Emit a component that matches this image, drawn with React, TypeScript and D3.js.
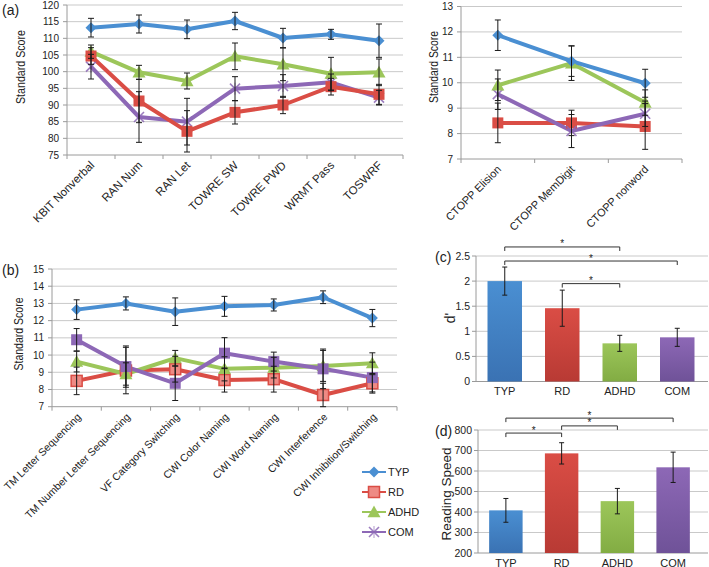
import React from "react";
import * as d3 from "d3";

const GROUPS = ["TYP", "RD", "ADHD", "COM"];
const COLORS: Record<string, string> = { TYP: "#4A8FD2", RD: "#DA4D45", ADHD: "#9CC65A", COM: "#8D68B6" };
const DARK: Record<string, string> = { TYP: "#3A72B3", RD: "#B83A34", ADHD: "#82AC43", COM: "#6F5298" };

// Panel (a) left
const catsA = ["KBIT Nonverbal", "RAN Num", "RAN Let", "TOWRE SW", "TOWRE PWD", "WRMT  Pass", "TOSWRF"];
const typA = [113.2, 114.3, 112.7, 115.2, 110.1, 111.2, 109.3];
const rdA = [104.7, 91.2, 82.1, 87.8, 90.0, 95.5, 93.2];
const adhdA = [106.0, 99.8, 97.2, 104.6, 102.2, 99.4, 99.8];
const comA = [101.5, 86.4, 85.0, 94.9, 95.7, 96.8, 92.2];
const typAErr = [2.8, 2.7, 2.8, 2.6, 2.9, 1.5, 5.0];
const rdAErr = [2.5, 6.5, 6.2, 3.5, 2.6, 2.5, 3.0];
const adhdAErr = [2.0, 2.1, 2.4, 4.0, 4.9, 4.9, 4.0];
const comAErr = [3.7, 7.6, 7.0, 3.6, 3.4, 2.5, 2.2];
const ticksA = [75, 80, 85, 90, 95, 100, 105, 110, 115, 120];

// Panel (a) right (CTOPP)
const catsC = ["CTOPP Elision", "CTOPP MemDigit", "CTOPP nonword"];
const typC = [11.87, 10.85, 9.98];
const rdC = [8.42, 8.42, 8.28];
const adhdC = [9.9, 10.77, 9.22];
const comC = [9.55, 8.1, 8.78];
const typCErr = [0.6, 0.6, 0.55];
const rdCErr = [0.78, 0.5, 0.9];
const adhdCErr = [0.6, 0.68, 0.5];
const comCErr = [0.6, 0.65, 0.5];
const ticksC = [7, 8, 9, 10, 11, 12, 13];

// Panel (b)
const catsB = ["TM Letter Sequencing", "TM Number Letter Sequencing", "VF Category Switching", "CWI Color Naming", "CWI Word Naming", "CWI Interference", "CWI Inhibition/Switching"];
const typB = [12.64, 13.0, 12.52, 12.83, 12.91, 13.36, 12.15];
const rdB = [8.5, 9.1, 9.18, 8.55, 8.6, 7.68, 8.36];
const adhdB = [9.62, 8.9, 9.82, 9.2, 9.27, 9.37, 9.53];
const comB = [10.89, 9.33, 8.36, 10.11, 9.62, 9.2, 8.69];
const typBErr = [0.57, 0.38, 0.8, 0.58, 0.35, 0.37, 0.5];
const rdBErr = [0.8, 1.35, 0.75, 0.7, 0.75, 0.68, 0.5];
const adhdBErr = [0.6, 0.65, 0.45, 0.7, 0.6, 0.9, 0.6];
const comBErr = [0.65, 1.2, 1.0, 0.9, 0.55, 1.15, 0.9];
const ticksB = [7, 8, 9, 10, 11, 12, 13, 14, 15];

// Panel (c)
const dprime = [2.0, 1.46, 0.76, 0.88];
const dprimeErr = [0.28, 0.36, 0.16, 0.18];
const ticksD = [0, 0.5, 1, 1.5, 2, 2.5];
const sigC: [string, string, number][] = [["TYP", "ADHD", 2.68], ["TYP", "COM", 2.4], ["RD", "ADHD", 1.95]];

// Panel (d)
const speed = [408, 686, 453, 618];
const speedErr = [58, 52, 62, 74];
const ticksS = [200, 300, 400, 500, 600, 700, 800];
const sigD: [string, string, number][] = [["TYP", "COM", 858], ["RD", "ADHD", 820], ["TYP", "RD", 785]];

const FONT = "'Liberation Sans', Arial, Helvetica, sans-serif";
const GRID = "#C9C9C9";
const AXIS = "#9A9A9A";
const TXT = "#222";

type Series = { key: string; values: number[]; errs: number[]; marker: string };

function Marker({ type, x, y, color }: { type: string; x: number; y: number; color: string }) {
  if (type === "diamond") {
    const s = 5.5;
    return <path d={`M${x},${y - s}L${x + s},${y}L${x},${y + s}L${x - s},${y}Z`} fill={color} />;
  }
  if (type === "square") {
    const s = 5.5;
    return <rect x={x - s} y={y - s} width={2 * s} height={2 * s} fill={color} />;
  }
  if (type === "squareLight") {
    const s = 5.5;
    return <rect x={x - s} y={y - s} width={2 * s} height={2 * s} fill="#EE8A84" stroke={color} strokeWidth={1.5} />;
  }
  if (type === "triangle") {
    const s = 6.5;
    return <path d={`M${x},${y - s}L${x + s},${y + s * 0.8}L${x - s},${y + s * 0.8}Z`} fill={color} />;
  }
  if (type === "x") {
    const s = 5;
    return (
      <g stroke={color} strokeWidth={1.6} opacity={0.85}>
        <line x1={x - s} y1={y - s} x2={x + s} y2={y + s} />
        <line x1={x - s} y1={y + s} x2={x + s} y2={y - s} />
        <line x1={x} y1={y - s - 1} x2={x} y2={y + s + 1} strokeWidth={0.8} />
      </g>
    );
  }
  return null;
}

function LinePanel({ cats, series, xRange, yRange, domain, tickValues, labelSize, labelDx }: {
  cats: string[]; series: Series[]; xRange: [number, number]; yRange: [number, number];
  domain: [number, number]; tickValues: number[]; labelSize: number; labelDx: number;
}) {
  const x = d3.scalePoint<string>().domain(cats).range(xRange).padding(0.5);
  const y = d3.scaleLinear().domain(domain).range(yRange);
  const step = x.step();
  const line = d3.line<number>().x((_, i) => x(cats[i])!).y((v) => y(v));
  const axisY = yRange[0];
  return (
    <g>
      {tickValues.filter((t) => t !== domain[0]).map((t) => (
        <line key={"g" + t} x1={xRange[0]} x2={xRange[1]} y1={y(t)} y2={y(t)} stroke={GRID} strokeWidth={1} />
      ))}
      <line x1={xRange[0]} x2={xRange[0]} y1={yRange[1]} y2={axisY} stroke={AXIS} />
      <line x1={xRange[0]} x2={xRange[1]} y1={axisY} y2={axisY} stroke={AXIS} />
      {tickValues.map((t) => (
        <g key={"t" + t}>
          <line x1={xRange[0] - 4} x2={xRange[0]} y1={y(t)} y2={y(t)} stroke={AXIS} />
          <text x={xRange[0] - 8} y={y(t)} dy="0.35em" textAnchor="end" fontSize={10} fill={TXT}>{t}</text>
        </g>
      ))}
      {d3.range(cats.length + 1).map((i) => (
        <line key={"xt" + i} x1={xRange[0] + i * step} x2={xRange[0] + i * step} y1={axisY} y2={axisY + 4} stroke={AXIS} />
      ))}
      {cats.map((c) => (
        <text key={"c" + c} transform={`translate(${x(c)! + labelDx},${axisY + 11}) rotate(-45)`} textAnchor="end" fontSize={labelSize} fill={TXT}>{c}</text>
      ))}
      {series.map((s) => (
        <path key={"l" + s.key} d={line(s.values)!} fill="none" stroke={COLORS[s.key]} strokeWidth={4} strokeLinejoin="round" />
      ))}
      {series.map((s) => (
        <g key={"m" + s.key}>
          {s.values.map((v, i) => (
            <Marker key={i} type={s.marker} x={x(cats[i])!} y={y(v)} color={COLORS[s.key]} />
          ))}
        </g>
      ))}
      {series.map((s) => (
        <g key={"e" + s.key} stroke="#1a1a1a" strokeWidth={1}>
          {s.values.map((v, i) => {
            const cx = x(cats[i])!;
            const y1 = y(v + s.errs[i]);
            const y2 = y(v - s.errs[i]);
            return (
              <g key={i}>
                <line x1={cx} x2={cx} y1={y1} y2={y2} />
                <line x1={cx - 3} x2={cx + 3} y1={y1} y2={y1} />
                <line x1={cx - 3} x2={cx + 3} y1={y2} y2={y2} />
              </g>
            );
          })}
        </g>
      ))}
    </g>
  );
}

function BarPanel({ values, errs, xRange, gridEnd, yRange, domain, tickValues, sig, id }: {
  values: number[]; errs: number[]; xRange: [number, number]; gridEnd: number; yRange: [number, number];
  domain: [number, number]; tickValues: number[]; sig: [string, string, number][]; id: string;
}) {
  const x = d3.scaleBand<string>().domain(GROUPS).range(xRange).paddingInner(0.4).paddingOuter(0.2);
  const y = d3.scaleLinear().domain(domain).range(yRange);
  const axisY = yRange[0];
  const bw = x.bandwidth();
  const cx = (g: string) => x(g)! + bw / 2;
  return (
    <g>
      <defs>
        {GROUPS.map((g) => (
          <linearGradient key={g} id={`${id}-${g}`} x1="0" y1="0" x2="0" y2="1">
            <stop offset="0" stopColor={COLORS[g]} />
            <stop offset="1" stopColor={DARK[g]} />
          </linearGradient>
        ))}
      </defs>
      {tickValues.filter((t) => t !== domain[0]).map((t) => (
        <line key={"g" + t} x1={xRange[0]} x2={gridEnd} y1={y(t)} y2={y(t)} stroke={GRID} />
      ))}
      <line x1={xRange[0]} x2={xRange[0]} y1={yRange[1]} y2={axisY} stroke={AXIS} />
      <line x1={xRange[0]} x2={gridEnd} y1={axisY} y2={axisY} stroke={AXIS} />
      {tickValues.map((t) => (
        <g key={"t" + t}>
          <line x1={xRange[0] - 4} x2={xRange[0]} y1={y(t)} y2={y(t)} stroke={AXIS} />
          <text x={xRange[0] - 6} y={y(t)} dy="0.35em" textAnchor="end" fontSize={10.5} fill={TXT}>{t}</text>
        </g>
      ))}
      {GROUPS.map((g, i) => (
        <g key={g}>
          <rect x={x(g)} y={y(values[i])} width={bw} height={axisY - y(values[i])} fill={`url(#${id}-${g})`} />
          <text x={cx(g)} y={axisY + 13.5} textAnchor="middle" fontSize={11} fill={TXT}>{g}</text>
        </g>
      ))}
      {GROUPS.map((g, i) => {
        const y1 = y(values[i] + errs[i]);
        const y2 = y(values[i] - errs[i]);
        const c = cx(g);
        return (
          <g key={"e" + g} stroke="#1a1a1a" strokeWidth={1}>
            <line x1={c} x2={c} y1={y1} y2={y2} />
            <line x1={c - 2.5} x2={c + 2.5} y1={y1} y2={y1} />
            <line x1={c - 2.5} x2={c + 2.5} y1={y2} y2={y2} />
          </g>
        );
      })}
      {sig.map(([a, b, lv], i) => {
        const ya = y(lv);
        const x1 = cx(a);
        const x2 = cx(b);
        return (
          <g key={"s" + i}>
            <path d={`M${x1},${ya + 4}V${ya}H${x2}V${ya + 4}`} fill="none" stroke="#333" strokeWidth={1} />
            <text x={(x1 + x2) / 2} y={ya + 0.5} textAnchor="middle" fontSize={10} fill={TXT}>*</text>
          </g>
        );
      })}
    </g>
  );
}

export default function App() {
  const seriesA: Series[] = [
    { key: "COM", values: comA, errs: comAErr, marker: "x" },
    { key: "ADHD", values: adhdA, errs: adhdAErr, marker: "triangle" },
    { key: "RD", values: rdA, errs: rdAErr, marker: "square" },
    { key: "TYP", values: typA, errs: typAErr, marker: "diamond" },
  ];
  const seriesC: Series[] = [
    { key: "RD", values: rdC, errs: rdCErr, marker: "square" },
    { key: "COM", values: comC, errs: comCErr, marker: "x" },
    { key: "ADHD", values: adhdC, errs: adhdCErr, marker: "triangle" },
    { key: "TYP", values: typC, errs: typCErr, marker: "diamond" },
  ];
  const seriesB: Series[] = [
    { key: "RD", values: rdB, errs: rdBErr, marker: "squareLight" },
    { key: "ADHD", values: adhdB, errs: adhdBErr, marker: "triangle" },
    { key: "COM", values: comB, errs: comBErr, marker: "square" },
    { key: "TYP", values: typB, errs: typBErr, marker: "diamond" },
  ];
  const legendMarkers: Record<string, string> = { TYP: "diamond", RD: "squareLight", ADHD: "triangle", COM: "x" };
  const legendY = d3.scalePoint<string>().domain(GROUPS).range([472, 532]);

  return (
    <svg width={709} height={567} style={{ position: "absolute", left: 0, top: 0, background: "#fff" }} fontFamily={FONT}>
      <rect width={709} height={567} fill="#fff" />
      <text x={2} y={15} fontSize={14} fill={TXT}>(a)</text>
      <text x={2} y={275} fontSize={14} fill={TXT}>(b)</text>
      <text x={435} y={262} fontSize={14} fill={TXT}>(c)</text>
      <text x={435} y={436} fontSize={14} fill={TXT}>(d)</text>

      <text transform="translate(25,67) rotate(-90)" textAnchor="middle" fontSize={12.5} textLength={74} lengthAdjust="spacingAndGlyphs" fill={TXT}>Standard Score</text>
      <text transform="translate(438,67) rotate(-90)" textAnchor="middle" fontSize={12.5} textLength={72} lengthAdjust="spacingAndGlyphs" fill={TXT}>Standard Score</text>
      <text transform="translate(23,334) rotate(-90)" textAnchor="middle" fontSize={12.5} textLength={73} lengthAdjust="spacingAndGlyphs" fill={TXT}>Standard Score</text>
      <text transform="translate(455,318) rotate(-90)" textAnchor="middle" fontSize={14} fill={TXT}>d'</text>
      <text transform="translate(451,494) rotate(-90)" textAnchor="middle" fontSize={13.5} fill={TXT}>Reading Speed</text>

      <LinePanel cats={catsA} series={seriesA} xRange={[67, 403]} yRange={[155, 5]} domain={[75, 120]} tickValues={ticksA} labelSize={11.5} labelDx={4} />
      <LinePanel cats={catsC} series={seriesC} xRange={[461, 682]} yRange={[159, 6.5]} domain={[7, 13]} tickValues={ticksC} labelSize={11} labelDx={4} />
      <LinePanel cats={catsB} series={seriesB} xRange={[52, 397]} yRange={[406.7, 269]} domain={[7, 15]} tickValues={ticksB} labelSize={10.5} labelDx={5} />

      <BarPanel id="c" values={dprime} errs={dprimeErr} xRange={[476, 706]} gridEnd={708} yRange={[381.5, 256]} domain={[0, 2.5]} tickValues={ticksD} sig={sigC} />
      <BarPanel id="d" values={speed} errs={speedErr} xRange={[478, 701]} gridEnd={708} yRange={[553, 430]} domain={[200, 800]} tickValues={ticksS} sig={sigD} />

      {GROUPS.map((g) => (
        <g key={"lg" + g}>
          <line x1={362} x2={386} y1={legendY(g)} y2={legendY(g)} stroke={COLORS[g]} strokeWidth={2} />
          <Marker type={legendMarkers[g]} x={374} y={legendY(g)!} color={COLORS[g]} />
          <text x={388} y={legendY(g)} dy="0.35em" fontSize={11} fill={TXT}>{g}</text>
        </g>
      ))}
    </svg>
  );
}
